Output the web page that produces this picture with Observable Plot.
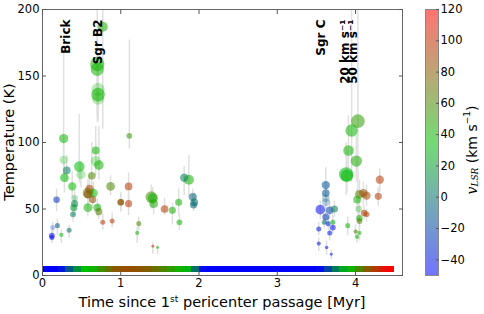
<!DOCTYPE html>
<html><head><meta charset="utf-8">
<script src="https://cdn.jsdelivr.net/npm/d3@7"></script>
<script src="https://cdn.jsdelivr.net/npm/@observablehq/plot@0.6"></script>
<style>
html,body{margin:0;padding:0;background:#fff;}
#chart{position:relative;width:484px;height:314px;font-family:"DejaVu Sans",sans-serif;}
#chart svg{position:absolute;top:0;}
</style></head><body><div id="chart"></div>
<script>
// ---- clump data (time since 1st pericenter [Myr], temperature [K], v_LSR [km/s], mass, T error range, tracer) ----
const time = [
  0.77,0.70,0.70,0.71,0.71,0.71,0.27,0.68,1.11,0.27,
  0.31,0.28,0.47,0.49,0.68,0.72,0.63,0.38,0.18,0.41,
  0.41,0.40,0.39,0.58,0.60,0.58,0.65,0.64,0.58,0.70,
  0.72,0.77,0.87,0.89,1.00,1.00,1.10,1.10,1.23,1.21,
  1.39,1.41,1.42,1.41,1.47,1.56,1.66,1.74,1.75,1.81,
  1.87,1.92,1.94,1.93,0.13,0.19,0.12,0.12,0.24,0.34,
  3.62,3.62,3.62,3.62,3.55,3.67,3.73,3.62,3.60,3.65,
  3.71,3.71,3.53,3.67,3.53,3.63,3.69,3.90,4.03,3.95,
  3.91,4.01,3.88,3.89,4.05,4.10,4.14,4.02,4.04,4.11,
  4.14,4.05,4.05,4.00,4.05,4.02,4.31,4.29
];
const temperature = [
  187,159,155,140,136,133,103,94,105,87,
  79,73.5,82,76,86,83,75,67,57,58,
  54,51,46,62,65,61,62,57,51,51,
  48,40,67,41,55,55,67,54,39,32,
  59,58,54,22,21,50,49,55,40,73.5,
  72,59,55,53,36,37.5,30,28.5,30.5,34,
  68,62,58,55,49.5,49,50,44,40,39,
  36,40,35,32,24,21,16,37.5,116,109,
  94,86,76,75,61,62,60,57,50,47,
  46,43,41,33,32,29,72,59.5
];
const vlsr = [
  45,40,40,40,40,40,38,38,50,35,
  5,35,35,35,35,40,60,35,-30,20,
  10,20,5,65,90,85,40,85,40,40,
  65,95,60,95,75,85,95,100,60,40,
  55,40,45,110,40,95,40,40,40,5,
  40,-5,0,-5,-30,-10,-45,-45,35,0,
  -15,-15,-10,-10,-45,-20,5,-25,0,-35,
  -45,30,-40,-40,-40,-40,-40,40,50,40,
  40,45,30,35,65,85,90,40,40,90,
  95,40,65,65,40,40,95,95
];
const mass = [
  12,24,20,20,22,18,10,7,4,8,
  7,9,13,10,12,11,7,8,5,5,
  6,6,4,13,9,8,9,6,9,7,
  6,3,9,3,5,5,7,6,3,2,
  16,12,9,1,1,7,6,6,4,8,
  12,8,7,6,3,3,4,3,2,3,
  8,7,7,7,11,7,6,6,3,3,
  4,3,3,3,2,1.5,1,3,22,18,
  13,15,24,18,9,8,8,7,5,5,
  4,5,4,2,2,2,8,6
];
const tempLow = [
  110,115,120,120,118,115,88,80,95,75,
  70,62,70,66,75,72,65,58,48,50,
  46,44,40,52,55,52,54,50,44,44,
  42,34,60,36,48,48,52,45,34,24,
  50,50,46,16,16,45,38,45,34,60,
  60,52,50,48,31,30,25,24,24,28,
  58,55,52,50,42,42,44,38,35,34,
  31,35,30,26,18,15,12,30,40,70,
  80,70,60,62,50,52,52,48,44,42,
  40,36,34,28,26,24,62,52
];
const tempHigh = [
  200,200,185,160,155,150,168,112,177,100,
  90,85,121,86,100,112,100,78,65,64,
  60,57,52,72,75,68,70,64,60,58,
  54,46,75,47,62,62,77,60,44,36,
  68,66,60,25,23,58,54,65,46,82,
  90,65,62,60,40,42,34,32,34,38,
  81,70,64,60,56,56,56,50,46,44,
  42,46,40,38,28,26,19,44,200,200,
  120,105,100,95,72,70,68,65,56,52,
  50,50,48,38,36,34,80,66
];
const tracer = [
  "A","A","A","B","A","B","A","A","A","B",
  "A","A","A","B","B","A","A","A","A","B",
  "A","A","A","A","A","A","A","A","A","A",
  "A","A","A","A","A","A","A","A","A","A",
  "A","A","A","A","A","A","A","A","A","A",
  "A","A","A","A","B","A","A","A","A","A",
  "A","A","B","B","A","A","A","A","A","A",
  "A","A","A","A","A","A","A","A","A","A",
  "A","A","A","A","A","A","A","A","B","A",
  "A","A","A","A","A","A","A","A"
];

// ---- orbit velocity strip along the time axis ----
const stripTime = [
  0.0,0.1,0.2,0.3,0.4,0.5,0.6,0.7,0.8,0.9,
  1.0,1.1,1.2,1.3,1.4,1.5,1.6,1.7,1.8,1.9,
  2.0,2.1,2.2,2.3,2.4,2.5,2.6,2.7,2.8,2.9,
  3.0,3.1,3.2,3.3,3.4,3.5,3.6,3.7,3.8,3.9,
  4.0,4.1,4.2,4.3,4.4,4.5
];
const stripV = [
  -50,-50,-40,-10,15,35,40,55,70,80,
  85,85,82,78,70,60,50,40,30,0,
  -45,-50,-50,-50,-50,-50,-50,-50,-50,-50,
  -50,-50,-50,-50,-50,-45,-20,5,25,40,
  60,80,95,110,120
];

// ---- annotations ----
const labelNames = ["Brick", "Sgr B2", "Sgr C", "20 km s\u207B\u00B9", "50 km s\u207B\u00B9"];
const labelTime = [0.24, 0.65, 3.50, 3.81, 3.91];

const xTicks = [0, 1, 2, 3, 4];
const yTicks = [0, 50, 100, 150, 200];
const cbTicks = [-40, -20, 0, 20, 40, 60, 80, 100, 120];

const clumps = d3.range(time.length).map(i => ({
  t: time[i], T: temperature[i], v: vlsr[i], m: mass[i], lo: tempLow[i], hi: tempHigh[i], tr: tracer[i]
}));
const strip = stripV.map((v, i) => ({t1: stripTime[i], t2: stripTime[i + 1], v}));

const colorScale = {type: "linear", domain: [-50, 35, 120], range: ["#0000ff", "#00be00", "#ff0000"], interpolate: "rgb", clamp: true};
const fmt = d => d < 0 ? "\u2212" + (-d) : String(d);
const baseStyle = {fontFamily: "DejaVu Sans, sans-serif", fontSize: "11.5px", color: "#000", background: "transparent", overflow: "visible"};

const main = Plot.plot({
  width: 410, height: 314,
  marginLeft: 42, marginRight: 8, marginTop: 9, marginBottom: 39,
  style: baseStyle,
  x: {domain: [0, 4.6]},
  y: {domain: [0, 200]},
  color: colorScale,
  r: {type: "sqrt", domain: [0, 30], range: [0, 8]},
  opacity: {type: "ordinal", domain: ["A", "B"], range: [0.55, 0.28]},
  marks: [
    Plot.rect(strip, {x1: "t1", x2: "t2", y1: 2.2, y2: 6.8, fill: "v", shapeRendering: "crispEdges"}),
    Plot.ruleX(clumps, {x: "t", y1: "lo", y2: "hi", stroke: "#e0e0e0", strokeWidth: 1.5}),
    Plot.dot(clumps, {x: "t", y: "T", r: "m", fill: "v", fillOpacity: "tr", stroke: null}),
    Plot.text(labelNames, {x: labelTime, text: d => d, frameAnchor: "top", dy: 10, rotate: -90, textAnchor: "end", fontWeight: "bold", fontSize: 12, fill: "#000"}),
    Plot.frame({stroke: "#666"}),
    Plot.axisX({ticks: xTicks, tickSize: -4, tickPadding: 7, tickFormat: fmt, label: null, stroke: "#555"}),
    Plot.axisX({anchor: "top", ticks: xTicks, tickSize: -4, tickFormat: () => "", label: null, stroke: "#555"}),
    Plot.axisY({ticks: yTicks, tickSize: -4, tickPadding: 7, tickFormat: fmt, label: null, stroke: "#555"}),
    Plot.axisY({anchor: "right", ticks: yTicks, tickSize: -4, tickFormat: () => "", label: null, stroke: "#555"})
  ]
});

const cbVals = d3.range(-50, 120, 0.5);
const cb = Plot.plot({
  width: 74, height: 314,
  marginLeft: 15, marginRight: 46, marginTop: 9, marginBottom: 39,
  style: baseStyle,
  y: {domain: [-50, 120]},
  color: colorScale,
  marks: [
    Plot.rect(cbVals, {y1: d => d, y2: d => d + 0.5, fill: d => d + 0.25, fillOpacity: 0.55, shapeRendering: "crispEdges"}),
    Plot.frame({stroke: "#888"}),
    Plot.axisY({anchor: "right", ticks: cbTicks, tickSize: -3, tickPadding: 5, tickFormat: fmt, label: null, stroke: "#555"})
  ]
});

const chart = document.getElementById("chart");
main.style.left = "0px";
cb.style.left = "410px";
chart.appendChild(main);
chart.appendChild(cb);

// axis titles (real text with super/subscripts)
const ms = d3.select(main);
const xl = ms.append("text").attr("x", 222).attr("y", 307).attr("text-anchor", "middle")
  .attr("font-size", 14.5).attr("fill", "#000");
xl.append("tspan").text("Time since 1");
xl.append("tspan").attr("font-size", 9).attr("dy", -5).text("st");
xl.append("tspan").attr("dy", 5).text(" pericenter passage [Myr]");

ms.append("text").attr("transform", "translate(9,142) rotate(-90)").attr("text-anchor", "middle")
  .attr("dominant-baseline", "central").attr("font-size", 14.5).attr("fill", "#000").text("Temperature (K)");

const cs = d3.select(cb);
const cl = cs.append("text").attr("transform", "translate(62,150) rotate(-90)").attr("text-anchor", "middle")
  .attr("dominant-baseline", "central").attr("font-size", 14).attr("fill", "#000");
cl.append("tspan").attr("font-family", "DejaVu Serif").attr("font-style", "italic").text("v");
cl.append("tspan").attr("font-family", "DejaVu Serif").attr("font-style", "italic").attr("font-size", 9).attr("dy", 3).text("LSR");
cl.append("tspan").attr("dy", -3).text(" (km s");
cl.append("tspan").attr("font-size", 9).attr("dy", -5).text("\u22121");
cl.append("tspan").attr("dy", 5).text(")");
</script></body></html>
